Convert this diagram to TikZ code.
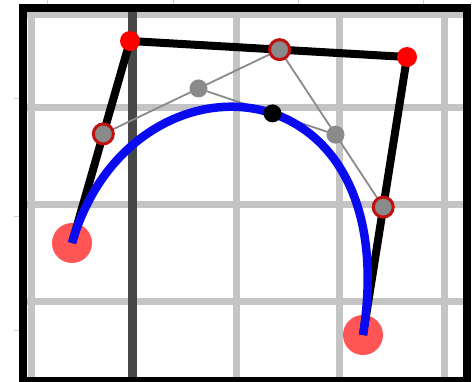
\documentclass[tikz,border=0pt]{standalone}
\usetikzlibrary{calc}
\definecolor{gridgray}{HTML}{C4C4C4}
\definecolor{axisgray}{HTML}{474747}
\definecolor{ptgray}{HTML}{8A8A8A}
\definecolor{ringred}{HTML}{C01010}
\definecolor{endred}{HTML}{FF5555}
\definecolor{curveblue}{HTML}{0A0AF0}
\definecolor{tickcol}{HTML}{D4D4C4}
\tikzset{
  gridline/.style={gridgray, line width=7pt},
  axisline/.style={axisgray, line width=9pt},
  polyline/.style={black, line width=8pt},
  helper/.style={ptgray, line width=1.8pt},
  endpt/.style={circle, fill=endred, inner sep=0pt, minimum size=40pt},
  ctrlpt/.style={circle, fill=red, inner sep=0pt, minimum size=20pt},
  lvlone/.style={circle, fill=ptgray, draw=ringred, line width=3pt, inner sep=0pt, minimum size=20pt},
  lvltwo/.style={circle, fill=ptgray, inner sep=0pt, minimum size=18pt},
  curvept/.style={circle, fill=black, inner sep=0pt, minimum size=18pt},
  tickmark/.style={tickcol, line width=1pt}
}
\begin{document}
\begin{tikzpicture}[x=1pt,y=-1pt]
\fill[white] (0,0) rectangle (476,381);
\useasboundingbox (0,0) rectangle (476,381);
% ticks
\foreach \tx in {47,173,298,423} \draw[tickmark] (\tx,0) -- (\tx,4);
\foreach \ty in {98,216,330} \draw[tickmark] (14,\ty) -- (19,\ty);
% grid
\foreach \gy in {14,107,204,301} \draw[gridline] (23,\gy) -- (467,\gy);
\foreach \gx in {31,236,339,444} \draw[gridline] (\gx,8) -- (\gx,381);
\draw[axisline] (132,8) -- (132,381);
% frame
\draw[black, line width=8pt] (23,8) rectangle (467,381);
% points
\coordinate (P0) at (72,243);
\coordinate (P1) at (130,41);
\coordinate (P2) at (407,57);
\coordinate (P3) at (363,335);
\def\tt{0.54}
\coordinate (Q0) at ($(P0)!\tt!(P1)$);
\coordinate (Q1) at ($(P1)!\tt!(P2)$);
\coordinate (Q2) at ($(P2)!\tt!(P3)$);
\coordinate (R0) at ($(Q0)!\tt!(Q1)$);
\coordinate (R1) at ($(Q1)!\tt!(Q2)$);
\coordinate (S) at ($(R0)!\tt!(R1)$);
% endpoint discs
\node[endpt] (e0) at (P0) {};
\node[endpt] (e3) at (P3) {};
% control polygon
\draw[polyline, line join=round] (P0) -- (P1) -- (P2) -- (P3);
% helper lines
\draw[helper] (Q0) -- (Q1) -- (Q2);
\draw[helper] (R0) -- (R1);
% curve
\draw[curveblue, line width=8.5pt] (P0) .. controls (P1) and (P2) .. (P3);
% dots
\node[ctrlpt] (c1) at (P1) {};
\node[ctrlpt] (c2) at (P2) {};
\node[lvlone] (q0) at (Q0) {};
\node[lvlone] (q1) at (Q1) {};
\node[lvlone] (q2) at (Q2) {};
\node[lvltwo] (r0) at (R0) {};
\node[lvltwo] (r1) at (R1) {};
\node[curvept] (s) at (S) {};
\end{tikzpicture}
\end{document}
